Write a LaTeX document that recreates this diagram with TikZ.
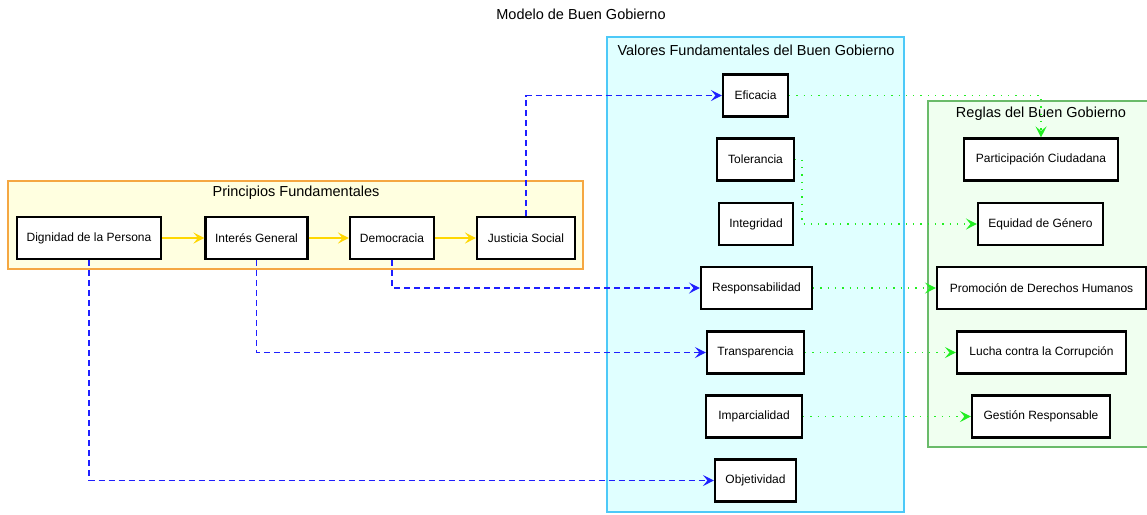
\documentclass[tikz,border=0pt]{standalone}
\usepackage{fontspec}
\setmainfont{Liberation Sans}
\usetikzlibrary{arrows.meta}
\definecolor{gold}{HTML}{FFD700}
\definecolor{lnblue}{HTML}{1F1FFF}
\definecolor{lngreen}{HTML}{22EE22}
\definecolor{yelfill}{HTML}{FFFFE0}
\definecolor{yelborder}{HTML}{F5A742}
\definecolor{cyfill}{HTML}{E0FFFF}
\definecolor{cyborder}{HTML}{4CC9F8}
\definecolor{grfill}{HTML}{F0FFF0}
\definecolor{grborder}{HTML}{6ABB6A}
\begin{document}
\begin{tikzpicture}[x=1pt,y=-1pt,
  box/.style={draw=black,line width=2.1pt,fill=white,minimum height=42pt,inner sep=0pt,font=\fontsize{12}{14}\selectfont},
  clabel/.style={font=\fontsize{14.5}{16}\selectfont,inner sep=0pt},
  tip/.style={-{Stealth[length=11pt,width=11pt,inset=4.5pt]}},
  flow/.style={draw=gold,line width=2.4pt,tip},
  link/.style={draw=lnblue,line width=1.3pt,dash pattern=on 6pt off 4pt,tip},
  rule/.style={draw=lngreen,line width=1.3pt,dash pattern=on 1.3pt off 6pt,tip}]
\useasboundingbox (0,0) rectangle (1147,514);
% title
\node[clabel] (title) at (581,14) {Modelo de Buen Gobierno};
% clusters
\draw[fill=yelfill,draw=yelborder,line width=1.3pt] (8,181) rectangle (583,269);
\node[clabel] (lprin) at (296,193) {Principios Fundamentales};
\draw[fill=cyfill,draw=cyborder,line width=1.3pt] (607,37) rectangle (904,512);
\node[clabel] (lval) at (756,50) {Valores Fundamentales del Buen Gobierno};
\draw[fill=grfill,draw=grborder,line width=1.3pt] (928,101) rectangle (1148,447);
\node[clabel] (lreg) at (1041,114) {Reglas del Buen Gobierno};
% principles
\node[box,minimum width=144pt] (dig) at (89,238) {Dignidad de la Persona};
\node[box,minimum width=102pt] (int) at (256.5,238) {Interés General};
\node[box,minimum width=84pt] (dem) at (392,238) {Democracia};
\node[box,minimum width=98pt] (jus) at (526,238) {Justicia Social};
% values
\node[box,minimum width=65pt] (efi) at (755.5,95.5) {Eficacia};
\node[box,minimum width=77pt] (tol) at (755.5,159.5) {Tolerancia};
\node[box,minimum width=74pt] (integ) at (756,224) {Integridad};
\node[box,minimum width=111pt] (resp) at (756.5,288) {Responsabilidad};
\node[box,minimum width=97pt] (trans) at (755.5,352.5) {Transparencia};
\node[box,minimum width=96pt] (imp) at (754,416.5) {Imparcialidad};
\node[box,minimum width=81pt] (obj) at (755.5,480.5) {Objetividad};
% rules
\node[box,minimum width=154pt] (par) at (1041,159.5) {Participación Ciudadana};
\node[box,minimum width=125pt] (equ) at (1040.5,224) {Equidad de Género};
\node[box,minimum width=209pt] (prom) at (1041.5,288) {Promoción de Derechos Humanos};
\node[box,minimum width=169pt] (luc) at (1041.5,352.5) {Lucha contra la Corrupción};
\node[box,minimum width=138pt] (ges) at (1041,416.5) {Gestión Responsable};
% principle chain
\draw[flow] (dig) -- (int);
\draw[flow] (int) -- (dem);
\draw[flow] (dem) -- (jus);
% principles to values
\draw[link] (jus.north) |- (efi.west);
\draw[link] (dem.south) |- (resp.west);
\draw[link] (int.south) |- (trans.west);
\draw[link] (dig.south) |- (obj.west);
% values to rules
\draw[rule] (efi.east) -| (par.north);
\coordinate (tolx) at (802,159.5);
\draw[rule] (tol.east) -- (tolx) |- (equ.west);
\draw[rule] (resp) -- (prom);
\draw[rule] (trans) -- (luc);
\draw[rule] (imp) -- (ges);
\end{tikzpicture}
\end{document}
